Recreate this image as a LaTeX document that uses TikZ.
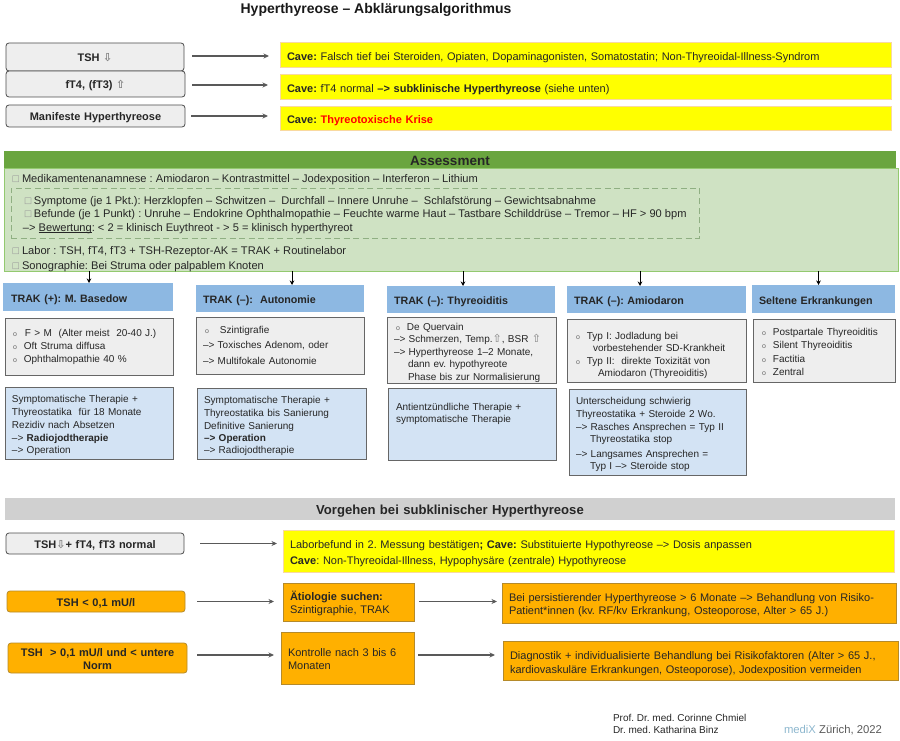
\documentclass[tikz,border=0pt]{standalone}
\usepackage{fontspec}
\setmainfont{Liberation Sans}
\newfontfamily\symfont{DejaVu Sans}
\usetikzlibrary{arrows.meta,calc}
\definecolor{cyel}{HTML}{FFFF00}
\definecolor{cyelb}{HTML}{F9D9A0}
\definecolor{chead}{HTML}{6AA53F}
\definecolor{cgreen}{HTML}{CFE2C3}
\definecolor{cgreenb}{HTML}{93C96F}
\definecolor{cblue}{HTML}{8DB8E2}
\definecolor{clblue}{HTML}{D3E3F4}
\definecolor{cgray}{HTML}{EEEEEE}
\definecolor{cband}{HTML}{D0D0D0}
\definecolor{corange}{HTML}{FFB000}
\definecolor{corangeb}{HTML}{B58A2A}
\definecolor{ctxt}{HTML}{262626}
\definecolor{cdash}{HTML}{8FAF82}
\definecolor{cmed}{HTML}{8DB7CE}
\def\bxa{13}
\newcommand{\bx}[8][6]{%
  \pgfmathsetmacro\bxw{#5-#3}\pgfmathsetmacro\bxh{#6-#4}%
  \pgfmathsetmacro\bxcx{(#3+#5)/2}\pgfmathsetmacro\bxcy{(#4+#6)/2}%
  \pgfmathsetmacro\bxt{\bxw-2*#1}%
  \node[#2,minimum width=\bxw pt,minimum height=\bxh pt,text width=\bxt pt,inner xsep=#1pt,inner ysep=0pt,outer sep=0pt] (#7) at (\bxcx,\bxcy) {\rule{0pt}{\bxa pt}#8\rule[-3pt]{0pt}{0pt}};\def\bxa{13}}
\newcommand{\dn}{{\symfont\fontsize{11}{9}\selectfont\color{gray}⇩}}
\newcommand{\up}{{\symfont\fontsize{11}{9}\selectfont\color{gray}⇧}}
\newcommand{\sq}{{\symfont\fontsize{8.5}{8}\selectfont\color{black!40}□}}
\newcommand{\bul}{{\fontsize{7}{7}\selectfont\color{black!60}o}}
\newcommand{\ar}{–>}
\newcommand{\thul}[1]{\setbox0\hbox{#1}\rlap{\rule[-2pt]{\wd0}{1.3pt}}#1}
\AtBeginDocument{\frenchspacing}
\tikzset{
  base/.style={font=\fontsize{10}{12.8}\selectfont,text=ctxt,align=left},
  lab/.style={base,font=\fontsize{11}{13.3}\selectfont\bfseries,align=center},
  labbox/.style={lab,rounded corners=3pt,draw=black!70,line width=0.8pt,fill=cgray},
  labor/.style={lab,rounded corners=3pt,draw=corangeb,line width=0.8pt,fill=corange},
  cave/.style={base,font=\fontsize{11}{16}\selectfont,draw=cyelb,line width=0.8pt,fill=cyel},
  band/.style={lab,fill=chead,font=\fontsize{13.5}{15}\selectfont\bfseries,text=black!85},
  greenbox/.style={draw=cgreenb,line width=1pt,fill=cgreen},
  dashbox/.style={draw=cdash,line width=0.8pt,dash pattern=on 6pt off 3.5pt},
  head/.style={base,font=\fontsize{10.7}{13}\selectfont\bfseries,fill=cblue},
  grayb/.style={base,draw=black!60,line width=0.9pt,fill=cgray},
  blueb/.style={base,draw=black!60,line width=0.9pt,fill=clblue},
  orb/.style={base,font=\fontsize{11}{13.3}\selectfont,draw=corangeb,line width=0.8pt,fill=corange},
  sub/.style={fill=cband,font=\fontsize{13.1}{15}\selectfont\bfseries,text=black!85,align=center},
  txt/.style={font=\fontsize{11.1}{13}\selectfont,text=ctxt,anchor=west,inner sep=0pt,outer sep=0pt},
  foot/.style={font=\fontsize{10}{11}\selectfont,text=ctxt,anchor=west,inner sep=0pt,outer sep=0pt},
  flow/.style={draw=black!65,line width=1.2pt,-{Stealth[length=5.5pt,width=5pt]}},
  drop/.style={draw=black,line width=0.7pt,-{Stealth[length=4.5pt,width=4.5pt]}},
}
\begin{document}
\begin{tikzpicture}[x=1pt,y=-1pt]
\useasboundingbox (0,0) rectangle (900,741);
\node[font=\fontsize{14}{16}\selectfont\bfseries,text=black!90,inner sep=0pt] (title) at (376,9.5) {Hyperthyreose – Abklärungsalgorithmus};

% Top rows
\bx{labbox}{6}{43}{184}{71}{tsh}{TSH \dn}
\bx{labbox}{6}{71}{185}{97}{ft}{fT4, (fT3) \up}
\bx{labbox}{6}{105}{185}{127}{man}{Manifeste Hyperthyreose}
\def\bxa{16}
\bx[7]{cave}{280}{42}{891}{67}{c1}{\textbf{Cave:} Falsch tief bei Steroiden, Opiaten, Dopaminagonisten, Somatostatin; Non-Thyreoidal-Illness-Syndrom}
\def\bxa{15}
\bx[7]{cave}{280}{74}{891}{99}{c2}{\textbf{Cave:} fT4 normal \textbf{–> subklinische Hyperthyreose} (siehe unten)}
\def\bxa{15}
\bx[7]{cave}{280}{106}{891}{130}{c3}{\textbf{Cave: \textcolor{red}{Thyreotoxische Krise}}}
\draw[flow,shorten <=8pt,shorten >=11pt] ([yshift=1pt]tsh.east) -- ([yshift=-1.5pt]c1.west);
\draw[flow,shorten <=7pt,shorten >=12pt] ([yshift=-1pt]ft.east) -- ([yshift=1.5pt]c2.west);
\draw[flow,shorten <=6pt,shorten >=12pt] (man.east) -- (c3.west |- man.east);

% Assessment
\bx{greenbox}{4}{169}{898}{271}{green}{}
\def\bxa{14}
\bx{band}{4}{151}{896}{168}{ass}{Assessment}
\bx{dashbox}{11}{188}{699}{238}{dash}{}
\node[txt] (a0) at (12,179.5) {\sq};
\node[txt] (a1) at (22,179.5) {Medikamentenanamnese : Amiodaron – Kontrastmittel – Jodexposition – Interferon – Lithium};
\node[txt] (a2) at (24,201.5) {\sq};
\node[txt] (a3) at (34,201.5) {Symptome (je 1 Pkt.): Herzklopfen – Schwitzen –\ \ Durchfall – Innere Unruhe –\ \ Schlafstörung – Gewichtsabnahme};
\node[txt] (a4) at (24,214.5) {\sq};
\node[txt] (a5) at (34,214.5) {Befunde (je 1 Punkt) : Unruhe – Endokrine Ophthalmopathie – Feuchte warme Haut – Tastbare Schilddrüse – Tremor – HF > 90 bpm};
\node[txt] (a6) at (23,228.5) {–> \thul{Bewertung}: < 2 = klinisch Euythreot - > 5 = klinisch hyperthyreot};
\node[txt] (a7) at (12,251.5) {\sq};
\node[txt] (a8) at (22,251.5) {Labor : TSH, fT4, fT3 + TSH-Rezeptor-AK = TRAK + Routinelabor};
\node[txt] (a9) at (12,266.5) {\sq};
\node[txt] (a10) at (22,266.5) {Sonographie: Bei Struma oder palpablem Knoten};

% Columns: headers
\bx[8]{head}{3}{283}{173}{311}{h1}{TRAK (+): M. Basedow}
\bx[7]{head}{196}{285}{364}{312}{h2}{TRAK (–):\ \ Autonomie}
\bx[7]{head}{387}{286}{555}{313}{h3}{TRAK (–): Thyreoiditis}
\bx[7]{head}{567}{286}{746}{313}{h4}{TRAK (–): Amiodaron}
\bx[7]{head}{752}{285}{895}{313}{h5}{Seltene Erkrankungen}
\draw[drop] ([xshift=1pt]h1.north |- green.south) -- ([xshift=1pt]h1.north);
\draw[drop] ([xshift=12pt]h2.north |- green.south) -- ([xshift=12pt]h2.north);
\draw[drop] ([xshift=-8pt]h3.north |- green.south) -- ([xshift=-8pt]h3.north);
\draw[drop] ([xshift=-16.5pt]h4.north |- green.south) -- ([xshift=-16.5pt]h4.north);
\draw[drop] ([xshift=-5pt]h5.north |- green.south) -- ([xshift=-5pt]h5.north);

% Gray boxes
\def\bxa{9}
\bx[8]{grayb}{5}{318}{173}{375}{g1}{\bul\hspace{8pt}F > M\ \ (Alter meist\ \ 20-40 J.)\\\bul\hspace{7pt}Oft Struma diffusa\\[-0.5pt]\bul\hspace{7pt}Ophthalmopathie 40 \%}
\def\bxa{10}
\bx[7]{grayb}{196}{317}{364}{374}{g2}{\hspace*{2pt}\bul\hspace{11pt}Szintigrafie\\[2pt]\ar\ Toxisches Adenom, oder\\[3pt]\ar\ Multifokale Autonomie}
\bx[7]{grayb}{387}{317}{556}{383}{g3}{\hspace*{2pt}\bul\hspace{7pt}De Quervain\\[-0.3pt]\ar\ Schmerzen, Temp.\up, BSR \up\\[-0.3pt]\ar\ Hyperthyreose 1–2 Monate,\\[-0.3pt]\hspace*{14pt}dann ev. hypothyreote\\[-0.3pt]\hspace*{14pt}Phase bis zur Normalisierung}
\def\bxa{18}
\bx[7]{grayb}{567}{319}{746}{382}{g4}{\hspace*{2pt}\bul\hspace{7pt}Typ I: Jodladung bei\\[-0.8pt]\hspace*{19pt}vorbestehender SD-Krankheit\\[0.5pt]\hspace*{2pt}\bul\hspace{7pt}Typ II:\ \ direkte Toxizität von\\[-0.8pt]\hspace*{24pt}Amiodaron (Thyreoiditis)}
\bx[7]{grayb}{753}{319}{895}{382}{g5}{\hspace*{2pt}\bul\hspace{7pt}Postpartale Thyreoiditis\\[0.7pt]\hspace*{2pt}\bul\hspace{7pt}Silent Thyreoiditis\\[0.7pt]\hspace*{2pt}\bul\hspace{7pt}Factitia\\[0.7pt]\hspace*{2pt}\bul\hspace{7pt}Zentral}

% Blue boxes
\bx[7]{blueb}{5}{387}{173}{459}{b1}{Symptomatische Therapie +\\Thyreostatika\ \ für 18 Monate\\[0.5pt]Rezidiv nach Absetzen\\[-0.5pt]\ar\ \textbf{Radiojodtherapie}\\[-0.5pt]\ar\ Operation}
\bx[7]{blueb}{197}{388}{366}{459}{b2}{Symptomatische Therapie +\\Thyreostatika bis Sanierung\\[0.7pt]Definitive Sanierung\\[-0.8pt]\textbf{\ar\ Operation}\\[-0.5pt]\ar\ Radiojodtherapie}
\bx[8]{blueb}{388}{388}{556}{460}{b3}{Antientzündliche Therapie +\\[-0.8pt]symptomatische Therapie\\\mbox{}\\\mbox{}}
\bx[7]{blueb}{569}{389}{746}{475}{b4}{Unterscheidung schwierig\\[0.7pt]Thyreostatika + Steroide 2 Wo.\\\ar\ Rasches Ansprechen = Typ II\\[-1pt]\hspace*{14pt}Thyreostatika stop\\[2pt]\ar\ Langsames Ansprechen =\\\hspace*{14pt}Typ I \ar\ Steroide stop}

% Subclinical section
\bx{sub}{5}{498}{895}{520}{sb}{Vorgehen bei subklinischer Hyperthyreose}
\bx{labbox}{6}{533}{184}{554}{s1}{TSH\dn + fT4, fT3 normal}
\bx{labor}{7}{591}{185}{612}{s2}{TSH < 0,1 mU/l}
\bx{labor}{8}{643}{187}{673}{s3}{TSH\ \ > 0,1 mU/l und < untere\\Norm}
\bx[7]{cave}{283}{530}{894}{572}{y1}{Laborbefund in 2. Messung bestätigen\textbf{; Cave:} Substituierte Hypothyreose \ar\ Dosis anpassen\\\textbf{Cave}: Non-Thyreoidal-Illness, Hypophysäre (zentrale) Hypothyreose}
\bx[7]{orb}{283}{583}{414}{621}{o1}{\textbf{Ätiologie suchen:}\\Szintigraphie, TRAK}
\bx[7]{orb}{502}{583}{896}{623}{o2}{Bei persistierender Hyperthyreose > 6 Monate \ar\ Behandlung von Risiko-\\Patient*innen (kv. RF/kv Erkrankung, Osteoporose, Alter > 65 J.)}
\bx[7]{orb}{281}{632}{414}{684}{o3}{Kontrolle nach 3 bis 6\\Monaten}
\def\bxa{15}
\bx[7]{orb}{503}{641}{898}{680}{o4}{Diagnostik + individualisierte Behandlung bei Risikofaktoren (Alter > 65 J.,\\kardiovaskuläre Erkrankungen, Osteoporose), Jodexposition vermeiden}
\draw[flow,shorten <=16pt,shorten >=6pt] (s1.east) -- (y1.west |- s1.east);
\draw[flow,shorten <=12pt,shorten >=9pt] (s2.east) -- (o1.west |- s2.east);
\draw[flow,shorten <=5pt,shorten >=5pt] (o1.east |- s2.east) -- (o2.west |- s2.east);
\draw[flow,shorten <=10pt,shorten >=7pt] ([yshift=3pt]s3.east) -- ([yshift=3pt]o3.west |- s3.east);
\draw[flow,shorten <=4pt,shorten >=8pt] ([yshift=3pt]o3.east |- s3.east) -- ([yshift=3pt]o4.west |- s3.east);

% Footer
\node[foot] (f1) at (613,717.5) {Prof. Dr. med. Corinne Chmiel};
\node[foot] (f2) at (613,730) {Dr. med. Katharina Binz};
\node[foot,font=\fontsize{11.3}{12}\selectfont,text=black!65] (f3) at (784,730) {\textcolor{cmed}{mediX} Zürich, 2022};
\end{tikzpicture}
\end{document}
